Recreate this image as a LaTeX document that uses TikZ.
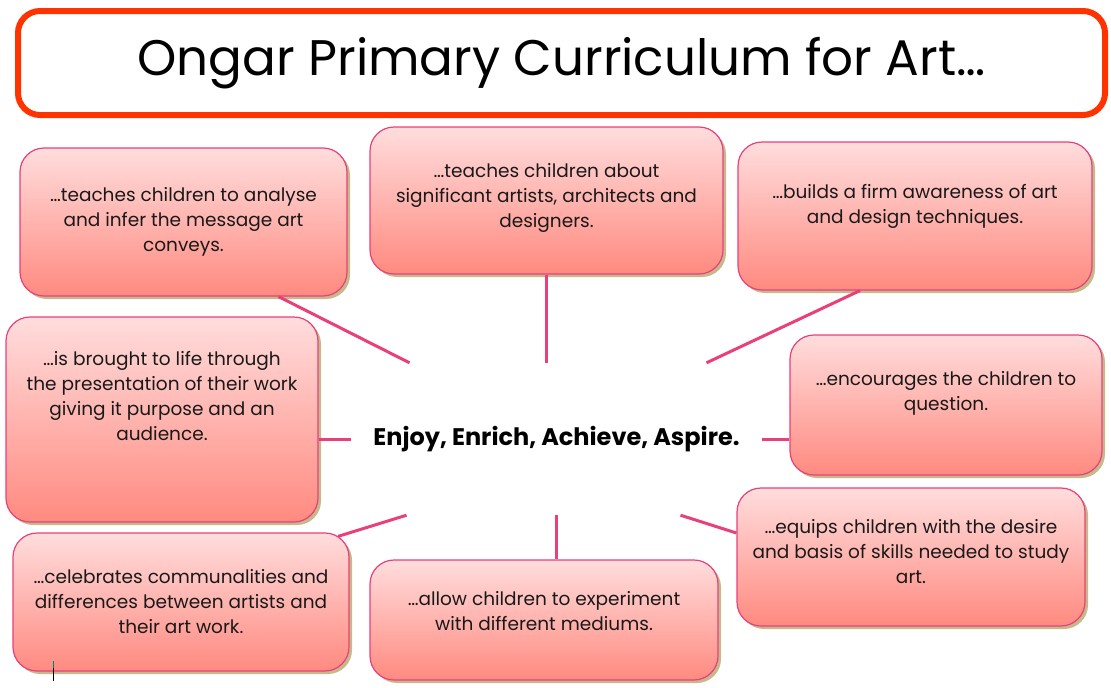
\documentclass[tikz,border=0pt]{standalone}
\usepackage{fontspec}
\setmainfont{Poppins}
\usetikzlibrary{calc}
\usetikzlibrary{shadows}

\definecolor{titlered}{RGB}{255,51,0}
\definecolor{boxtop}{RGB}{255,221,221}
\definecolor{boxbottom}{RGB}{255,138,128}
\definecolor{boxline}{RGB}{234,64,122}
\definecolor{shadowtan}{RGB}{196,186,140}
\definecolor{cursorteal}{RGB}{0,128,128}

\tikzset{
  titlebox/.style={draw=titlered, line width=6pt, rounded corners=22pt, fill=white,
    minimum width=1087pt, minimum height=104pt, font=\fontsize{50}{56}\selectfont},
  artbox/.style={draw=boxline, line width=1.2pt, rounded corners=24pt,
    top color=boxtop, bottom color=boxbottom, align=center, text=black!90,
    font=\fontsize{18.5}{25}\selectfont,
    drop shadow={shadow xshift=3pt, shadow yshift=-3pt, fill=shadowtan, opacity=1}},
  lift/.style={text depth=#1},
  link/.style={draw=boxline, line width=3pt},
  motto/.style={minimum width=411pt, minimum height=152pt,
    font=\bfseries\fontsize{24}{28}\selectfont},
}

\begin{document}
\begin{tikzpicture}[x=1pt, y=-1pt]
\useasboundingbox (0,0) rectangle (1111,688);

% heading
\node[titlebox] (title) at (561.5,63) {Ongar Primary Curriculum for Art…};

% centre
\node[motto] (ctr) at (556.5,439) {Enjoy, Enrich, Achieve, Aspire.};

% boxes round the centre
\node[artbox, minimum width=327pt, minimum height=148pt] (b1) at (183.5,222)
  {…teaches children to analyse\\and infer the message art\\conveys.};
\node[artbox, lift=10pt, minimum width=353pt, minimum height=147pt] (b2) at (546.5,200.5)
  {…teaches children about\\significant artists, architects and\\designers.};
\node[artbox, lift=24pt, minimum width=354pt, minimum height=148pt] (b3) at (915,216)
  {…builds a firm awareness of art\\and design techniques.};
\node[artbox, lift=48pt, minimum width=312pt, minimum height=205pt] (b4) at (162,419.5)
  {…is brought to life through\\the presentation of their work\\giving it purpose and an\\audience.};
\node[artbox, lift=28pt, minimum width=312pt, minimum height=140pt] (b5) at (946,405)
  {…encourages the children to\\question.};
\node[artbox, lift=12pt, minimum width=348pt, minimum height=138pt] (b6) at (911,557)
  {…equips children with the desire\\and basis of skills needed to study\\art.};
\node[artbox, minimum width=336pt, minimum height=138pt] (b7) at (181,602)
  {…celebrates communalities and\\differences between artists and\\their art work.};
\node[artbox, lift=18pt, minimum width=348pt, minimum height=120pt] (b8) at (544,620)
  {…allow children to experiment\\with different mediums.};

% links
\draw[link] ([xshift=95pt]b1.south) -- ([xshift=-147pt]ctr.north);
\draw[link] (b2.south) -- (b2.south |- ctr.north);
\draw[link] ([xshift=-55pt]b3.south) -- ([xshift=150pt]ctr.north);
\draw[link] (ctr.west) -- (ctr.west -| b4.east);
\draw[link] (ctr.east) -- (ctr.east -| b5.west);
\draw[link] ([yshift=24pt]b6.west) -- ([xshift=124pt]ctr.south);
\draw[link] ([xshift=157pt,yshift=-4pt]b7.north) -- ([xshift=-150pt]ctr.south);
\draw[link] (ctr.south) -- (ctr.south |- b8.north);

% text cursor
\draw[cursorteal, line width=1pt] (53,661) -- (53,668);
\draw[black, line width=1pt] (53,668) -- (53,681);
\end{tikzpicture}
\end{document}
